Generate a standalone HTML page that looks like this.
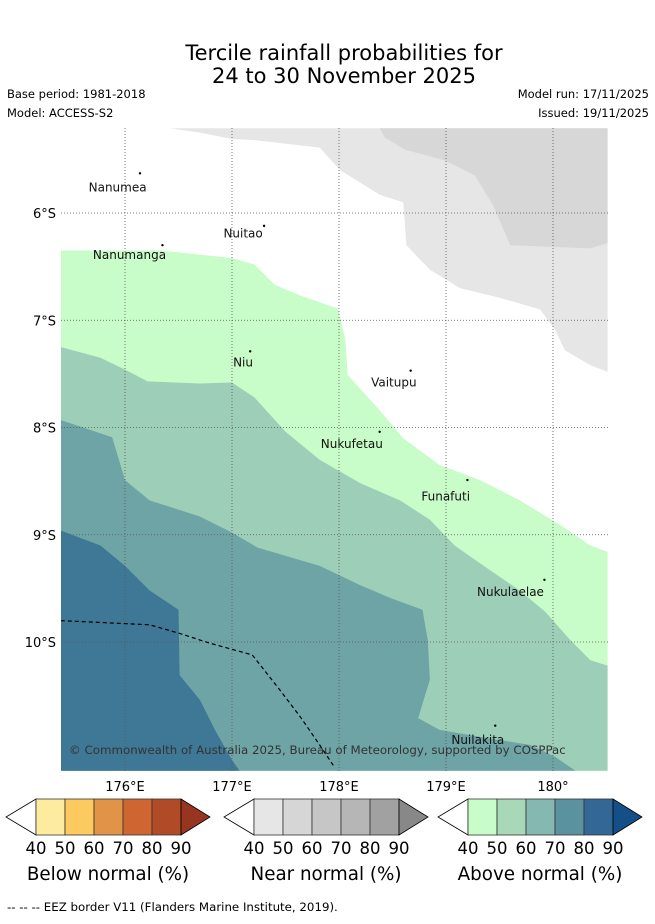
<!DOCTYPE html>
<html><head><meta charset="utf-8"><style>
body{margin:0;background:#fff;}
svg text{font-family:"DejaVu Sans","Liberation Sans",sans-serif;}
</style></head><body>
<svg width="655" height="919" viewBox="0 0 655 919" xmlns="http://www.w3.org/2000/svg">
<text x="344" y="60" font-size="21" text-anchor="middle">Tercile rainfall probabilities for</text>
<text x="344" y="83" font-size="21" text-anchor="middle">24 to 30 November 2025</text>
<text x="7" y="98" font-size="11.5">Base period: 1981-2018</text>
<text x="7" y="117" font-size="11.5">Model: ACCESS-S2</text>
<text x="649" y="98" font-size="11.5" text-anchor="end">Model run: 17/11/2025</text>
<text x="649" y="117" font-size="11.5" text-anchor="end">Issued: 19/11/2025</text>
<defs><clipPath id="clip"><rect x="61" y="128" width="547" height="643"/></clipPath></defs>
<g id="map" clip-path="url(#clip)"></g>
<g id="axes"></g>
<g id="bars"></g>
<text x="7" y="911" font-size="11.8">--  --  -- EEZ border V11 (Flanders Marine Institute, 2019).</text>
</svg>
<script>
const lonTicks=[176,177,178,179,180];
const lonLabels=["176°E","177°E","178°E","179°E","180°"];
const latTicks=[6,7,8,9,10];
const latLabels=["6°S","7°S","8°S","9°S","10°S"];
const grayLight=[[176.42,5.21],[176.70,5.25],[177.0,5.31],[177.21,5.32],[177.82,5.39],[178.01,5.60],[178.38,5.83],[178.60,5.90],[178.63,6.30],[178.85,6.53],[179.13,6.70],[179.50,6.79],[179.88,6.90],[180.02,7.09],[180.11,7.28],[180.35,7.42],[180.51,7.48],[180.51,5.21]];
const grayDark=[[178.38,5.21],[178.43,5.30],[178.62,5.41],[178.99,5.51],[179.27,5.65],[179.44,5.93],[179.60,6.30],[180.35,6.33],[180.51,6.28],[180.51,5.21]];
const aboveGreen=[[175.40,6.35],[176.33,6.35],[177.0,6.42],[177.21,6.48],[177.40,6.67],[177.64,6.77],[177.99,6.89],[178.06,7.18],[178.08,7.51],[178.38,7.84],[178.60,8.10],[178.94,8.35],[179.32,8.49],[179.69,8.68],[180.07,8.91],[180.35,9.10],[180.51,9.16]];
const aboveMid=[[175.40,7.25],[175.77,7.35],[176.0,7.46],[176.21,7.57],[176.70,7.59],[177.0,7.58],[177.21,7.72],[177.50,8.04],[177.82,8.30],[178.20,8.52],[178.57,8.68],[178.85,8.86],[179.08,9.10],[179.41,9.33],[179.69,9.52],[179.93,9.72],[180.16,9.98],[180.35,10.17],[180.51,10.22]];
const aboveTeal=[[175.40,7.93],[175.88,8.09],[176.0,8.49],[176.23,8.68],[176.70,8.83],[177.0,8.98],[177.24,9.12],[177.82,9.29],[178.20,9.47],[178.48,9.59],[178.78,9.70],[178.83,9.98],[178.85,10.35],[178.74,10.71],[178.94,10.82],[179.41,10.90],[179.79,10.96],[180.02,11.07],[180.21,11.20]];
const aboveDark=[[175.40,8.96],[175.77,9.10],[176.0,9.29],[176.23,9.52],[176.50,9.70],[176.51,10.31],[176.70,10.54],[176.84,10.82],[177.0,11.10],[177.07,11.20]];
const eez=[[175.40,9.80],[176.23,9.84],[176.51,9.92],[176.79,10.01],[177.19,10.12],[177.45,10.45],[177.64,10.70],[177.82,10.96],[177.96,11.17]];
const islandNames=["Nanumea","Nuitao","Nanumanga","Niu","Vaitupu","Nukufetau","Funafuti","Nukulaelae","Nuilakita"];
const islandLon=[176.14,177.30,176.35,177.17,178.67,178.38,179.20,179.92,179.46];
const islandLat=[5.63,6.12,6.30,7.29,7.47,8.04,8.49,9.42,10.78];
const islandLabelLon=[175.66,176.92,175.70,177.01,178.30,177.83,178.77,179.29,179.05];
const islandLabelLat=[5.80,6.23,6.43,7.43,7.62,8.19,8.68,9.57,10.95];
const belowColors=["#fdeca0","#fdca60","#e19447","#cf6632","#b14b27","#983521"];
const nearColors=["#e6e6e6","#d6d6d6","#c6c6c6","#b6b6b6","#a1a1a1","#888888"];
const aboveColors=["#c8fcc8","#a8d8b8","#84b8b0","#5a92a0","#336796","#154f88"];
const cbTicks=["40","50","60","70","80","90"];
const cbTitles=["Below normal (%)","Near normal (%)","Above normal (%)"];

const NS="http://www.w3.org/2000/svg";
const X=lon=>125+(lon-176)*107;
const Y=lat=>213+(lat-6)*107.25;
function mk(t,a,p){const e=document.createElementNS(NS,t);for(const k in a)e.setAttribute(k,a[k]);p.appendChild(e);return e;}
const map=document.getElementById('map'),axes=document.getElementById('axes'),bars=document.getElementById('bars');
const pts=a=>a.map(p=>X(p[0]).toFixed(1)+","+Y(p[1]).toFixed(1)).join(" ");
function region(arr,col,name,closeRight){
  let a=arr.slice();
  if(closeRight)a=a.concat([[180.51,11.2]]);
  a=a.concat([[175.40,11.2]]);
  const e=mk('polygon',{points:pts(a),fill:col},map);
  
  
}
let g=mk('polygon',{points:pts(grayLight),fill:"#e6e6e6"},map);


g=mk('polygon',{points:pts(grayDark),fill:"#d7d7d7"},map);


region(aboveGreen,"#c8fcc8","above-normal-40-region",true);
region(aboveMid,"#9dcfb8","above-normal-50-region",true);
region(aboveTeal,"#6ea4a6","above-normal-60-region",false);
region(aboveDark,"#3f7796","above-normal-70-region",false);
lonTicks.forEach((l,i)=>{
  const e=mk('line',{x1:X(l),x2:X(l),y1:128,y2:771,stroke:"#555","stroke-width":0.8,"stroke-dasharray":"1,2"},map);
  
  
  const t=mk('text',{x:X(l),y:791,"font-size":13,"text-anchor":"middle"},axes);t.textContent=lonLabels[i];
  
  
});
latTicks.forEach((l,i)=>{
  const e=mk('line',{x1:61,x2:608,y1:Y(l),y2:Y(l),stroke:"#555","stroke-width":0.8,"stroke-dasharray":"1,2"},map);
  
  
  const t=mk('text',{x:56,y:Y(l)+5,"font-size":13,"text-anchor":"end"},axes);t.textContent=latLabels[i];
  
  
});
let ez=mk('polyline',{points:pts(eez),fill:"none",stroke:"#000","stroke-width":1.2,"stroke-dasharray":"4,3"},map);


islandNames.forEach((n,i)=>{
  const d=mk('circle',{cx:X(islandLon[i]),cy:Y(islandLat[i]),r:1.2,fill:"#000"},map);
  
  
  const t=mk('text',{x:X(islandLabelLon[i]),y:Y(islandLabelLat[i]),"font-size":12,fill:"#111"},map);t.textContent=n;
  
  
});
let c=mk('text',{x:69,y:754,"font-size":11.8,fill:"#333"},map);
c.textContent="© Commonwealth of Australia 2025, Bureau of Meteorology, supported by COSPPac";


[belowColors,nearColors,aboveColors].forEach((cols,b)=>{
  const x0=[36,254,468][b],w=145/5,y0=799,h=36;
  const lt=mk('polygon',{points:`${x0},${y0} ${x0-30},${y0+h/2} ${x0},${y0+h}`,fill:"#fff",stroke:"#000","stroke-width":0.8},bars);
  
  
  for(let i=0;i<5;i++){
    const r=mk('rect',{x:x0+i*w,y:y0,width:w,height:h,fill:cols[i],stroke:"#333","stroke-width":0.8},bars);
    
    
  }
  const rt=mk('polygon',{points:`${x0+145},${y0} ${x0+174},${y0+h/2} ${x0+145},${y0+h}`,fill:cols[5],stroke:"#000","stroke-width":0.8},bars);
  
  
  cbTicks.forEach((t,i)=>{
    const e=mk('text',{x:x0+i*w,y:854,"font-size":16.5,"text-anchor":"middle"},bars);e.textContent=t;
    
    
  });
  const tt=mk('text',{x:x0+72,y:880,"font-size":18.3,"text-anchor":"middle"},bars);tt.textContent=cbTitles[b];
  
  
});
</script>
</body></html>
